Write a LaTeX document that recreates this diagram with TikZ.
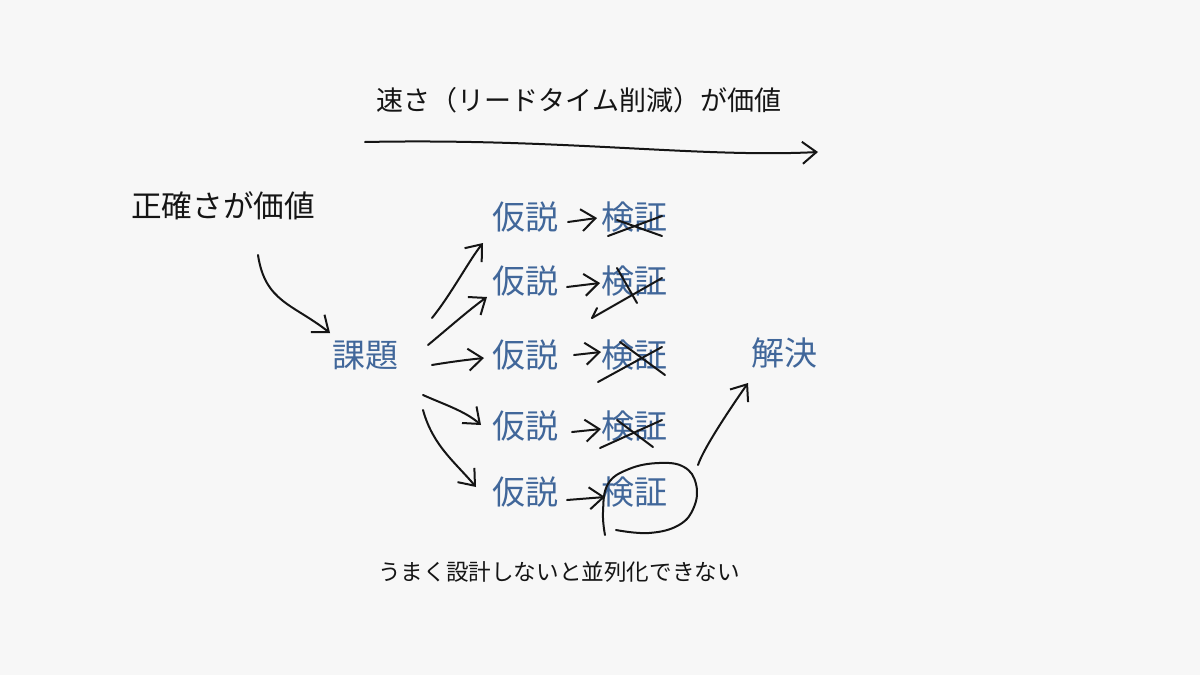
\documentclass[tikz,border=0pt]{standalone}
\usepackage{fontspec}
\setmainfont{Noto Sans CJK JP}
\usetikzlibrary{arrows.meta,calc}
\definecolor{bg}{HTML}{F7F7F7}
\definecolor{ink}{HTML}{151515}
\definecolor{jblue}{HTML}{41679A}
\tikzset{
  hand/.style={draw=ink,line width=1pt,line cap=round,line join=round},
  harrow/.style={hand,-{Straight Barb[length=7pt,width=11pt,line width=1pt]}},
  btext/.style={text=jblue,font=\fontsize{16.5pt}{20pt}\selectfont,inner sep=0pt},
  ktext/.style={text=ink,inner sep=0pt},
}
\begin{document}
\begin{tikzpicture}[x=0.5pt,y=-0.5pt]
\fill[bg] (0,0) rectangle (1200,675);
\useasboundingbox (0,0) rectangle (1200,675);

% texts
\node[ktext,font=\fontsize{13.5pt}{16pt}\selectfont] (title) at (579,100) {速さ（リードタイム削減）が価値};
\node[ktext,font=\fontsize{15.3pt}{18pt}\selectfont] (acc) at (223,206) {正確さが価値};
\node[btext] (kadai) at (365,356) {課題};
\node[btext] (h1) at (525,217) {仮説};
\node[btext] (h2) at (525,281) {仮説};
\node[btext] (h3) at (525,355) {仮説};
\node[btext] (h4) at (525,426) {仮説};
\node[btext] (h5) at (525,492) {仮説};
\node[btext] (k1) at (634,217) {検証};
\node[btext] (k2) at (634,281) {検証};
\node[btext] (k3) at (634,355) {検証};
\node[btext] (k4) at (634,426) {検証};
\node[btext] (k5) at (634,492) {検証};
\node[btext] (sol) at (784,353) {解決};
\node[ktext,font=\fontsize{11.3pt}{14pt}\selectfont] (note) at (559,572) {うまく設計しないと並列化できない};

% top speed arrow
\coordinate (sa) at (365,142);
\coordinate (sb) at (818,152);
\draw[harrow] (sa) .. controls (560,138) and (700,158) .. (sb);

% accuracy arrow to kadai
\draw[harrow] ($(acc)+(35,49)$) .. controls ($(acc)+(42,96)$) and ($(acc)+(70,98)$) .. ($(kadai)+(-35,-23)$);

% kadai -> hypotheses
\draw[harrow] ($(kadai)+(67,-38)$) .. controls ($(kadai)+(85,-60)$) and ($(h1)+(-55,42)$) .. ($(h1)+(-42,26)$);
\draw[harrow] ($(kadai)+(63,-11)$) .. controls ($(kadai)+(80,-25)$) and ($(h2)+(-55,28)$) .. ($(h2)+(-38,16)$);
\draw[harrow] ($(kadai)+(67,9)$) .. controls ($(kadai)+(85,6)$) and ($(h3)+(-60,5)$) .. ($(h3)+(-41,3)$);
\draw[harrow] ($(kadai)+(58,39)$) .. controls ($(kadai)+(78,48)$) and ($(h4)+(-60,-15)$) .. ($(h4)+(-44,-1)$);
\draw[harrow] ($(kadai)+(58,54)$) .. controls ($(kadai)+(68,90)$) and ($(h5)+(-70,-30)$) .. ($(h5)+(-49,-5)$);

% hypothesis -> verification
\draw[harrow] ($(h1)+(43,5)$) -- ($(k1)+(-37,1)$);
\draw[harrow] ($(h2)+(42,6)$) -- ($(k2)+(-34,2)$);
\draw[harrow] ($(h3)+(49,0)$) -- ($(k3)+(-33,-3)$);
\draw[harrow] ($(h4)+(47,6)$) -- ($(k4)+(-33,3)$);
\draw[harrow] ($(h5)+(42,8)$) -- ($(k5)+(-29,5)$);

% crosses
\begin{scope}[shift={(k1)}]
  \draw[hand] (-26,19) -- (28,-1);
  \draw[hand] (-17,3) -- (28,19);
\end{scope}
\begin{scope}[shift={(k2)}]
  \draw[hand] (-42,37) -- (28,-3);
  \draw[hand] (-42,37) -- (-37,27);
  \draw[hand] (-17,-13) -- (3,22);
\end{scope}
\begin{scope}[shift={(k3)}]
  \draw[hand] (-36,27) -- (28,-8);
  \draw[hand] (-14,-13) -- (31,20);
\end{scope}
\begin{scope}[shift={(k4)}]
  \draw[hand] (-34,22) -- (28,-6);
  \draw[hand] (-17,-6) -- (19,21);
\end{scope}

% circle around the chosen verification
\begin{scope}[shift={(k5)}]
  \draw[hand] plot[smooth,tension=0.7] coordinates {(-29,43) (-31,20) (-26,-8) (-5,-23) (25,-29) (50,-25) (62,-8) (60,15) (45,33) (15,41) (-18,38)};
\end{scope}

% to solution
\draw[harrow] ($(k5)+(64,-27)$) .. controls ($(k5)+(70,-45)$) and ($(sol)+(-50,50)$) .. ($(sol)+(-36,30)$);
\end{tikzpicture}
\end{document}
